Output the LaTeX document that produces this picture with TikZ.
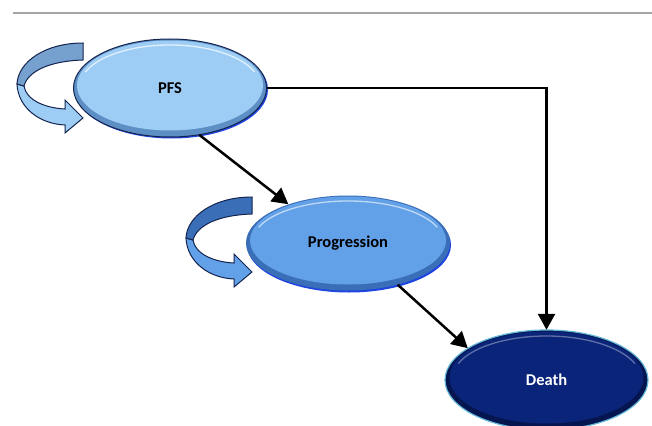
\documentclass[tikz,border=0pt]{standalone}
\usepackage{fontspec}
\setmainfont{Carlito}
\usetikzlibrary{shapes.geometric,arrows.meta}
\definecolor{pfsmain}{HTML}{9DCDF5}
\definecolor{pfsrim}{HTML}{5E8FC4}
\definecolor{progmain}{HTML}{62A0E8}
\definecolor{progrim}{HTML}{3A6FB8}
\definecolor{deathmain}{HTML}{0A2479}
\definecolor{deathrim}{HTML}{04154F}
\definecolor{navyline}{HTML}{14244F}
\definecolor{shadowblue}{HTML}{1F45E0}
\definecolor{topline}{HTML}{A6A6A6}
\tikzset{
  state/.style={ellipse, inner sep=0pt, font=\bfseries\fontsize{16.5}{18}\selectfont},
  flow/.style={line width=2.5pt, -{Triangle[length=16pt,width=17pt]}},
  pics/looparrow/.style n args={3}{code={
    % light lower band with arrow head
    \filldraw[fill=#2, draw=#3, line width=1pt]
      (-66,41) .. controls (-65,65) and (-43,81) .. (-18,82)
      -- (-18,90) -- (0,75) -- (-18,57) -- (-18,66)
      .. controls (-38,65) and (-57,57) .. (-59,43) -- cycle;
    % dark upper band
    \filldraw[fill=#1, draw=#3, line width=1pt]
      (0,0) -- (0,17) .. controls (-33,18) and (-55,28) .. (-59,43)
      -- (-66,41) .. controls (-65,19) and (-38,0) .. (0,0) -- cycle;
  }}
}
\begin{document}
\begin{tikzpicture}[x=1pt,y={(0pt,-1pt)}]
\useasboundingbox (0,0) rectangle (652,425);
\clip (0,0) rectangle (652,425);
\draw[topline, line width=2pt] (13,13) -- (652,13);

% loop arrows
\pic at (83,43) {looparrow={pfsrim!85}{pfsmain}{navyline}};
\pic at (252,197) {looparrow={progrim}{progmain}{navyline}};

% nodes
\node[state, minimum width=193pt, minimum height=98pt] (pfs) at (170,88) {};
\node[state, minimum width=204pt, minimum height=95pt] (prog) at (348,243) {};
\node[state, minimum width=203pt, minimum height=100pt] (death) at (546.5,380) {};

% PFS look
\fill[shadowblue] ([shift={(1.5,1.5)}]pfs.center) ellipse [x radius=96.5pt, y radius=49pt];
\filldraw[fill=pfsrim, draw=navyline, line width=1pt] (pfs.center) ellipse [x radius=96.5pt, y radius=49pt];
\fill[pfsmain] ([yshift=2.5pt]pfs.center) ellipse [x radius=93pt, y radius=45pt];
\draw[white, opacity=0.7, line width=1.3pt] ([shift={(160:90pt and 41pt)},yshift=2pt]pfs.center) arc[start angle=160, end angle=20, x radius=90pt, y radius=41pt];
\node[state, text=black] at (pfs.center) {PFS};

% Progression look
\fill[shadowblue] ([shift={(1,2)}]prog.center) ellipse [x radius=102pt, y radius=47.5pt];
\fill[progrim] (prog.center) ellipse [x radius=102pt, y radius=47.5pt];
\fill[progmain] ([yshift=2.5pt]prog.center) ellipse [x radius=98pt, y radius=44pt];
\draw[white, opacity=0.6, line width=1.3pt] ([shift={(160:95pt and 40pt)},yshift=2pt]prog.center) arc[start angle=160, end angle=20, x radius=95pt, y radius=40pt];
\node[state, text=black] at (prog.center) {Progression};

% Death look
\filldraw[fill=deathrim, draw=cyan!60!teal!70, line width=1.2pt] (death.center) ellipse [x radius=101.5pt, y radius=50pt];
\fill[deathmain] ([yshift=2.5pt]death.center) ellipse [x radius=97pt, y radius=46pt];
\draw[white, opacity=0.35, line width=1.3pt] ([shift={(160:94pt and 42pt)},yshift=2pt]death.center) arc[start angle=160, end angle=20, x radius=94pt, y radius=42pt];
\node[state, text=white] at (death.center) {Death};

% connectors
\draw[flow] (pfs.east) -| (death.north);
\draw[flow] (pfs.-58) -- (prog.147);
\draw[flow] (prog.-40) -- (death.158);
\end{tikzpicture}
\end{document}
